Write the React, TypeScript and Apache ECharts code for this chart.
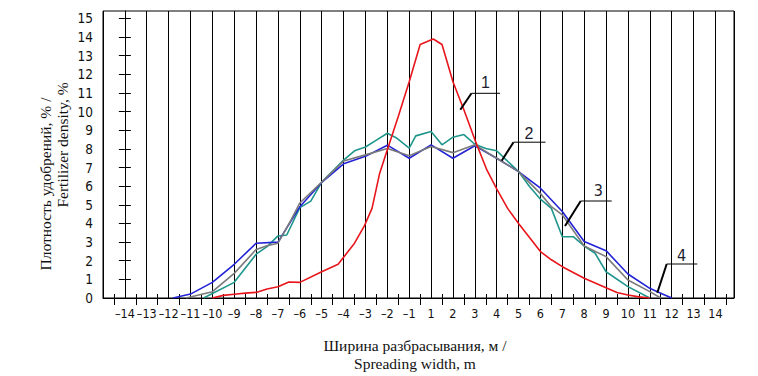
import React, { useEffect, useRef } from 'react';
import * as echarts from 'echarts';

// Tick labels of the spreading-width axis (there is no "0" label)
const tickLabels = [
  '–14', '–13', '–12', '–11', '–10', '–9', '–8', '–7', '–6', '–5', '–4', '–3', '–2', '–1',
  '1', '2', '3', '4', '5', '6', '7', '8', '9', '10', '11', '12', '13', '14',
];
const yTicks = [0, 1, 2, 3, 4, 5, 6, 7, 8, 9, 10, 11, 12, 13, 14, 15];

// Curve 1 (red)
const redM = [-10, -9.5, -9, -8.5, -8, -7.5, -7, -6.5, -6, -5, -4.25, -3.5, -3.05, -2.7, -2.35, -2, -1.5, -1, 0, 1.1, 1.5, 2, 2.5, 3, 3.55, 4, 4.5, 5, 6, 6.5, 7, 8, 9, 9.5, 10, 10.5, 11];
const redV = [0, 0.14, 0.2, 0.26, 0.3, 0.48, 0.6, 0.86, 0.84, 1.41, 1.81, 2.94, 3.87, 4.81, 6.7, 7.95, 9.74, 11.6, 13.6, 13.9, 13.6, 11.6, 10.1, 8.5, 6.87, 5.85, 4.81, 4.0, 2.49, 2.05, 1.68, 1.06, 0.55, 0.3, 0.16, 0.06, 0];

// Curve 2 (teal)
const tealM = [-10.4, -9, -8, -7.5, -7, -6.6, -6, -5.5, -5, -4, -3.5, -3, -2.5, -2, -1.6, -1, -0.4, 1, 1.5, 2, 2.5, 3, 3.5, 4, 4.4, 5, 5.5, 6, 6.5, 7, 7.5, 8, 8.5, 9, 10, 11];
const tealV = [0, 0.84, 2.35, 2.76, 3.33, 3.38, 4.85, 5.2, 6.22, 7.4, 7.9, 8.1, 8.47, 8.84, 8.6, 8.04, 8.7, 8.93, 8.22, 8.63, 8.77, 8.25, 8.02, 7.9, 7.45, 6.78, 5.98, 5.3, 4.81, 3.29, 3.29, 2.79, 2.4, 1.41, 0.61, 0];

// Curve 4 (blue)
const blueM = [-11.8, -11, -10, -9, -8, -7, -6, -5, -4, -3, -2, -1, 1, 2, 3, 4, 5, 6, 7, 8, 9, 10, 11, 11.5, 12];
const blueV = [0, 0.21, 0.84, 1.81, 2.94, 3.0, 4.9, 6.2, 7.2, 7.6, 8.2, 7.5, 8.22, 7.5, 8.17, 7.5, 6.78, 5.89, 4.64, 3.03, 2.54, 1.29, 0.52, 0.26, 0];

// Curve 3 (gray)
const grayM = [-11.2, -10, -9, -8, -7.5, -7, -6.4, -6, -5, -4, -3, -2, -1, 1, 2, 3, 4, 5, 6, 6.5, 7, 8, 9, 10, 11, 11.5];
const grayV = [0, 0.34, 1.32, 2.6, 2.8, 2.94, 4.19, 5.1, 6.22, 7.35, 7.68, 8.02, 7.63, 8.13, 7.8, 8.22, 7.5, 6.78, 5.6, 4.9, 4.46, 2.79, 2.22, 0.97, 0.34, 0];

// metres -> position on the (gap-less) labelled grid
function mToU(m: number): number {
  if (m <= -1) return m + 14;
  if (m >= 1) return m + 13;
  return 13.5 + m * 0.5;
}
function pairs(ms: number[], vs: number[]) {
  return ms.map((m, i) => [mToU(m), vs[i]]);
}

export default function App() {
  const ref = useRef<HTMLDivElement>(null);
  useEffect(() => {
    const chart = echarts.init(ref.current!, null, { renderer: 'svg' });
    const X_MIN = -1;
    const X_MAX = 27.85;
    const axisFont = "'DejaVu Sans Condensed', 'Liberation Sans Narrow', Roboto, sans-serif";
    const serif = "'Liberation Serif', 'DejaVu Serif', serif";
    const halfTicks = Array.from({ length: 29 }, (_, i) => i - 0.5);
    const black = '#000';

    const lineSeries = (name: string, data: number[][], color: string, z: number) => ({
      type: 'line',
      name,
      data,
      xAxisIndex: 0,
      yAxisIndex: 0,
      showSymbol: false,
      symbol: 'none',
      silent: true,
      z,
      lineStyle: { color, width: 1.6 },
    });

    const leader = (tx: number, ty: number, hx1: number, hx2: number, hy: number, dx: number, dy: number, label: string, font: string) => [
      { type: 'line', shape: { x1: hx1, y1: hy, x2: hx2, y2: hy }, style: { stroke: black, lineWidth: 1 }, z: 10 },
      { type: 'line', shape: { x1: hx1, y1: hy, x2: dx, y2: dy }, style: { stroke: black, lineWidth: 2 }, z: 10 },
      {
        type: 'text', x: tx, y: ty, z: 10,
        style: { text: label, font, fill: '#1c1c30', textAlign: 'center', textVerticalAlign: 'middle', align: 'center', verticalAlign: 'middle' },
      },
    ];

    const centered = (x: number, y: number, text: string, rotation = 0) => ({
      type: 'text', x, y, rotation,
      style: { text, font: `15.5px ${serif}`, fill: '#111', textAlign: 'center', textVerticalAlign: 'middle', align: 'center', verticalAlign: 'middle' },
    });

    chart.setOption({
      animation: false,
      backgroundColor: '#fff',
      grid: {
        left: 103, top: 11, width: 631, height: 287,
        show: true, borderColor: black, borderWidth: 1, backgroundColor: 'transparent',
        containLabel: false, outerBoundsMode: 'none',
      },
      xAxis: [
        {
          type: 'value', min: X_MIN, max: X_MAX, interval: 1, position: 'bottom',
          axisLine: { show: true, lineStyle: { color: black, width: 1 } },
          axisTick: { show: false },
          axisLabel: {
            color: '#111', fontFamily: axisFont, fontSize: 12.5, margin: 9,
            showMaxLabel: false,
            formatter: (v: number) => {
              const i = Math.round(v);
              return Math.abs(v - i) < 1e-6 && i >= 0 && i < tickLabels.length ? tickLabels[i] : '';
            },
          },
          splitLine: { show: true, lineStyle: { color: black, width: 1 } },
        },
        {
          type: 'value', min: X_MIN, max: X_MAX, interval: 1, position: 'bottom',
          axisLine: { show: false }, axisLabel: { show: false }, splitLine: { show: false },
          axisTick: { show: true, customValues: halfTicks, length: 7, lineStyle: { color: black, width: 1 } },
        },
        {
          type: 'value', min: X_MIN, max: X_MAX, interval: 1, position: 'bottom',
          axisLine: { show: false }, axisLabel: { show: false }, splitLine: { show: false },
          axisTick: { show: true, inside: true, customValues: halfTicks, length: 4, lineStyle: { color: black, width: 1 } },
        },
      ],
      yAxis: [
        {
          type: 'value', min: 0, max: 15.4, interval: 1, position: 'left',
          axisLine: { show: true, lineStyle: { color: black, width: 1 } },
          axisTick: { show: true, customValues: yTicks, length: 6, lineStyle: { color: black, width: 1 } },
          axisLabel: {
            customValues: yTicks, color: '#111', fontFamily: axisFont, fontSize: 13.5, margin: 10,
            formatter: (v: number) => (Math.abs(v - Math.round(v)) < 1e-6 ? String(Math.round(v)) : ''),
          },
          splitLine: { show: false },
        },
        {
          type: 'value', min: 0, max: 15.4, interval: 1, position: 'left',
          axisLine: { show: false }, axisLabel: { show: false }, splitLine: { show: false },
          axisTick: { show: true, inside: true, customValues: yTicks, length: 6, lineStyle: { color: black, width: 1 } },
        },
      ],
      series: [
        lineSeries('2', pairs(tealM, tealV), '#1f968c', 2),
        lineSeries('4', pairs(blueM, blueV), '#2323d6', 3),
        lineSeries('3', pairs(grayM, grayV), '#7a7a7a', 4),
        lineSeries('1', pairs(redM, redV), '#e8161c', 5),
      ],
      graphic: [
        ...leader(485.5, 82, 471.5, 500, 93.3, 460.3, 109.7, '1', `16px 'Liberation Sans', Arial, sans-serif`),
        ...leader(529, 133, 513.5, 545.5, 142.2, 501.7, 160.7, '2', `16px 'Liberation Sans', Arial, sans-serif`),
        ...leader(598.3, 190, 580.7, 611.7, 201, 565, 226, '3', `16px ${axisFont}`),
        ...leader(681.7, 255, 666.7, 697.3, 264, 657.3, 292.7, '4', `16px ${axisFont}`),
        centered(415, 345, 'Ширина разбрасывания, м /'),
        centered(415, 363, 'Spreading width, m'),
        centered(45, 184, 'Плотность удобрений, % /', Math.PI / 2),
        centered(62, 145, 'Fertilizer density, %', Math.PI / 2),
      ],
    });
    return () => chart.dispose();
  }, []);
  return (
    <div
      ref={ref}
      style={{ position: 'fixed', left: 0, top: 0, width: 758, height: 376, background: '#fff' }}
    />
  );
}
